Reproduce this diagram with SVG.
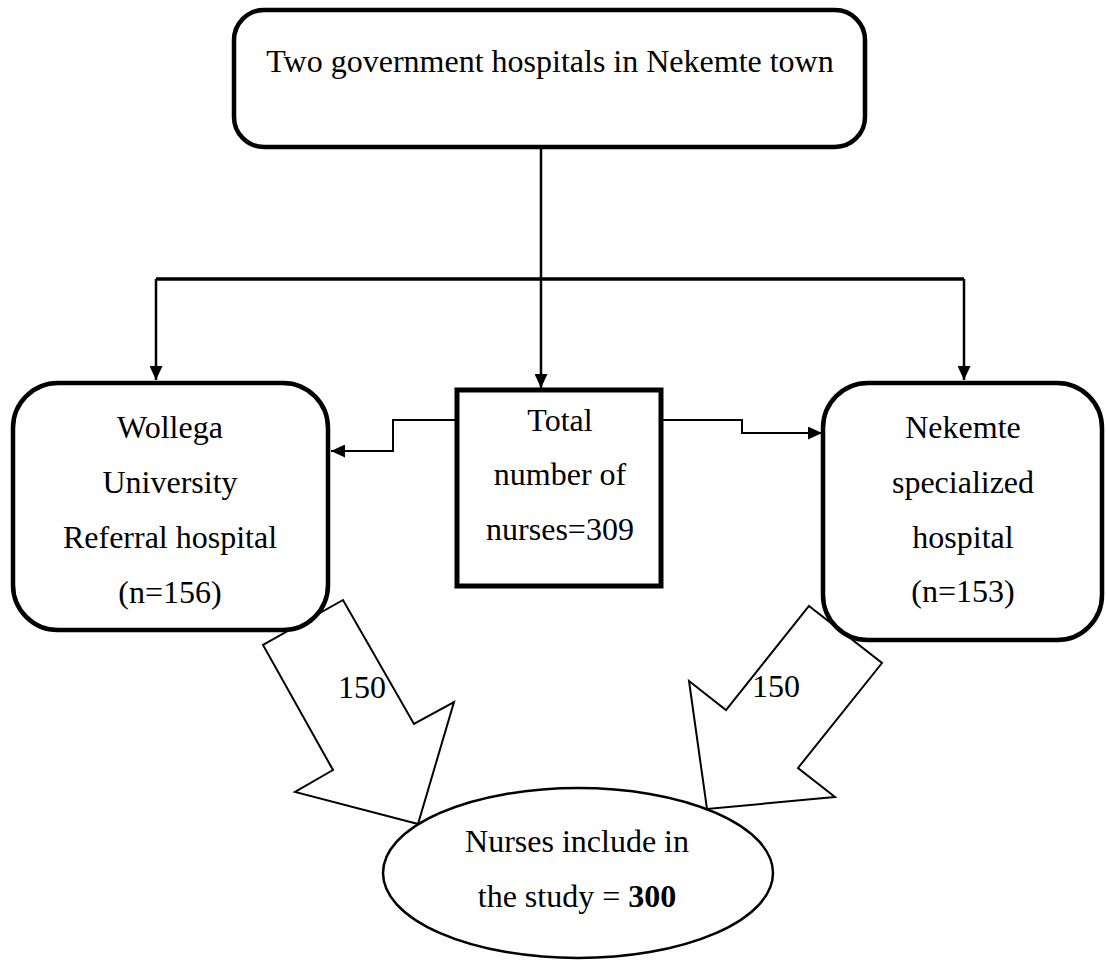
<svg xmlns="http://www.w3.org/2000/svg" width="1106" height="960" viewBox="0 0 1106 960">
<style>
text{font-family:"Liberation Serif","Times New Roman",serif;font-size:32px;fill:#000;text-anchor:middle}
.box{fill:#fff;stroke:#000;stroke-width:4.5}
.blk{fill:#fff;stroke:#000;stroke-width:2;stroke-linejoin:miter}
.ln{fill:none;stroke:#000;stroke-width:2.5}
.thin{fill:none;stroke:#000;stroke-width:2}
.bold{font-weight:bold}
</style>
<defs>
<marker id="ah" markerUnits="userSpaceOnUse" markerWidth="14" markerHeight="13" refX="14" refY="6.5" orient="auto">
<path d="M0,0 L14,6.5 L0,13 z" fill="#000"/>
</marker>
</defs>
<rect width="1106" height="960" fill="#fff"/>
<g id="connectors">
<line class="ln" x1="541" y1="149" x2="541" y2="388" marker-end="url(#ah)"/>
<line x1="156" y1="279" x2="964" y2="279" stroke="#000" stroke-width="3.5"/>
<line class="ln" x1="156" y1="279" x2="156" y2="380" marker-end="url(#ah)"/>
<line class="ln" x1="964" y1="279" x2="964" y2="380" marker-end="url(#ah)"/>
<polyline class="thin" points="457,420 393,420 393,451 331,451" marker-end="url(#ah)"/>
<polyline class="thin" points="661,420 742,420 742,433 822,433" marker-end="url(#ah)"/>
</g>
<g id="arrow-left">
<polygon class="blk" points="343,600 263,645 333,770 295,792 418,824 454,702 414,724"/>
<text x="362" y="698">150</text>
</g>
<g id="arrow-right">
<polygon class="blk" points="809,606 882,663 798,768 835,797 707,809 689,681 726,710"/>
<text x="776" y="697">150</text>
</g>
<g id="top">
<rect class="box" x="234" y="10" width="631" height="137" rx="30" ry="30"/>
<text x="550" y="72">Two government hospitals in Nekemte town</text>
</g>
<g id="wollega">
<rect class="box" x="13" y="383" width="315" height="247" rx="45" ry="45"/>
<text x="170" y="438">Wollega</text>
<text x="170" y="493">University</text>
<text x="170" y="548">Referral hospital</text>
<text x="170" y="603">(n=156)</text>
</g>
<g id="total">
<rect class="box" x="457" y="390" width="204" height="196" style="stroke-width:5"/>
<text x="560" y="431">Total</text>
<text x="560" y="485">number of</text>
<text x="560" y="540">nurses=309</text>
</g>
<g id="nekemte">
<rect class="box" x="823" y="383" width="279" height="257" rx="45" ry="45"/>
<text x="963" y="438">Nekemte</text>
<text x="963" y="493">specialized</text>
<text x="963" y="548">hospital</text>
<text x="963" y="602">(n=153)</text>
</g>
<g id="study">
<ellipse cx="578" cy="873" rx="195" ry="85" fill="#fff" stroke="#000" stroke-width="2.5"/>
<text x="577" y="852">Nurses include in</text>
<text x="577" y="907">the study = <tspan class="bold">300</tspan></text>
</g>
</svg>
